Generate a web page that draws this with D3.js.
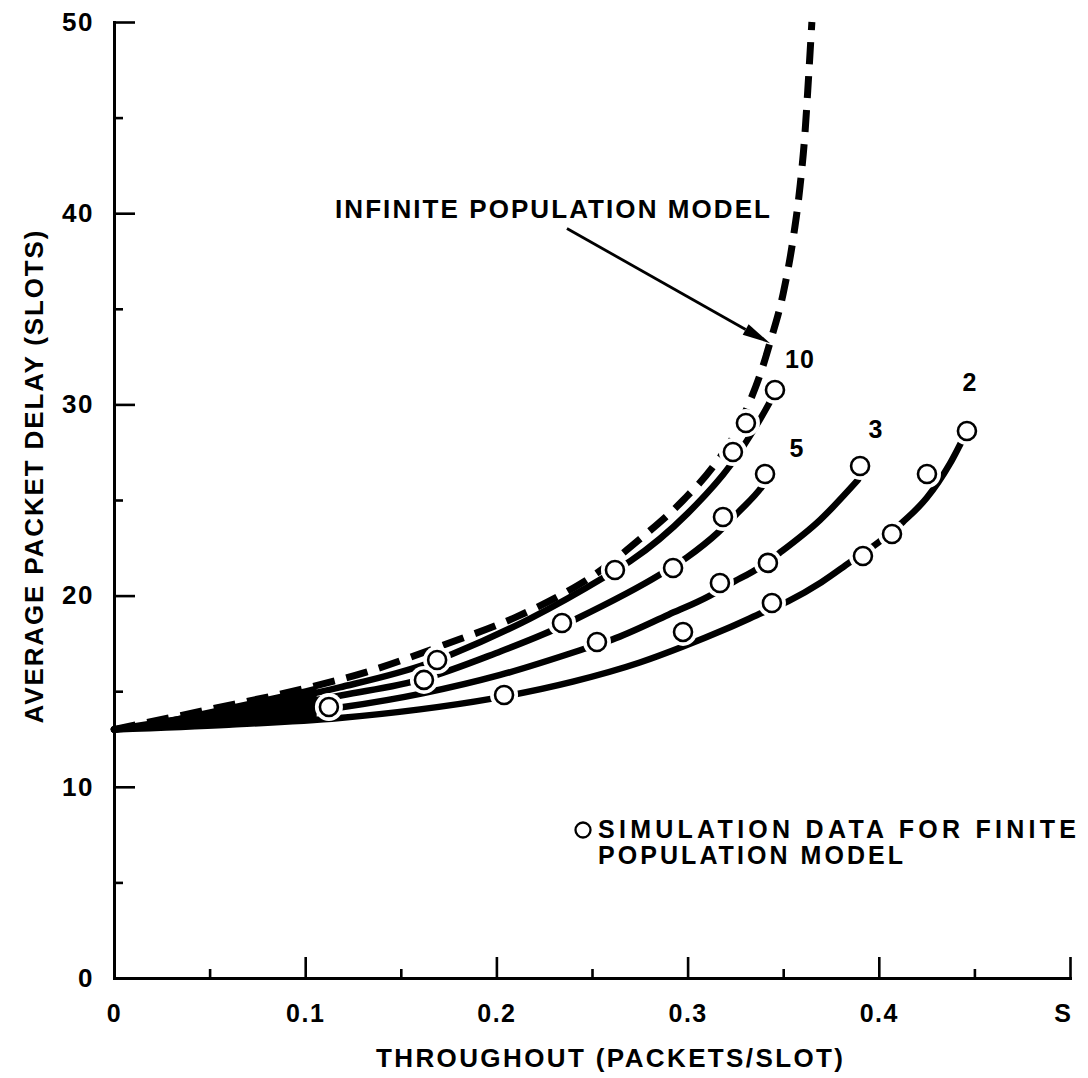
<!DOCTYPE html>
<html>
<head>
<meta charset="utf-8">
<script src="https://cdn.jsdelivr.net/npm/d3@7"></script>
<style>
  html, body { margin: 0; padding: 0; background: #fff; }
  svg { display: block; }
  text { font-family: "Liberation Sans", Arial, Helvetica, sans-serif; font-weight: bold; fill: #000; }
</style>
</head>
<body>
<svg id="chart" width="1088" height="1078"></svg>
<script>
// Slotted channel: throughput S (packets/slot) against average packet delay (slots).

// Analytic curve, infinite population model: [S, delay]
const infiniteModel = [
  [0, 13.0], [0.05, 14.05], [0.10, 15.15], [0.132, 16.0], [0.172, 17.4],
  [0.2108, 18.9], [0.2368, 20.2], [0.25, 21.0], [0.275, 22.95], [0.2978, 25.0],
  [0.3134, 26.75], [0.3239, 28.3], [0.3315, 29.9], [0.3394, 32.0], [0.343, 33.2],
  [0.350, 35.8], [0.3551, 38.6], [0.3588, 41.4], [0.3614, 44.2], [0.3632, 47.0],
  [0.365, 50.0]
];

// Analytic curves, finite population model (N users): [S, delay]
const finiteN10 = [
  [0, 13.0], [0.06, 14.0], [0.118, 15.2], [0.164, 16.45], [0.177, 16.95],
  [0.2176, 18.8], [0.257, 21.0], [0.27, 21.8], [0.30, 24.3], [0.3222, 26.8],
  [0.336, 28.9], [0.3457, 30.6]
];
const finiteN5 = [
  [0, 13.0], [0.06, 13.75], [0.12, 14.8], [0.162, 15.65], [0.20, 17.0],
  [0.2296, 18.2], [0.2422, 18.8], [0.2856, 21.1], [0.2997, 22.0], [0.3159, 23.3],
  [0.3264, 24.35], [0.3389, 25.7], [0.341, 26.0]
];
const finiteN3 = [
  [0, 13.0], [0.06, 13.5], [0.12, 14.17], [0.162, 14.9], [0.202, 15.85],
  [0.247, 17.25], [0.2605, 17.7], [0.29, 19.0], [0.3117, 20.0], [0.322, 20.6],
  [0.338, 21.5], [0.3483, 22.25], [0.3692, 23.95], [0.3891, 26.05]
];
const finiteN2 = [
  [0, 13.0], [0.06, 13.25], [0.118, 13.6], [0.16, 14.05], [0.197, 14.6],
  [0.24, 15.5], [0.275, 16.5], [0.298, 17.35], [0.32, 18.25], [0.339, 19.1],
  [0.3525, 19.7], [0.37, 20.7], [0.385, 21.75], [0.40, 22.8], [0.4126, 23.85],
  [0.425, 25.1], [0.4372, 26.9], [0.446, 28.6]
];

// Simulation results for the finite population model: [S, delay]
const simN10 = [[0.169, 16.63], [0.262, 21.34], [0.3237, 27.51], [0.3305, 29.03], [0.3457, 30.75]];
const simN5  = [[0.1621, 15.59], [0.2343, 18.57], [0.2924, 21.44], [0.3185, 24.11], [0.3405, 26.36]];
const simN3  = [[0.1124, 14.17], [0.2526, 17.57], [0.3169, 20.66], [0.3420, 21.71], [0.3902, 26.78]];
const simN2  = [[0.2040, 14.80], [0.2976, 18.10], [0.3441, 19.61], [0.3917, 22.07], [0.4069, 23.22],
                [0.4252, 26.36], [0.4461, 28.61]];

const curveNames = ["10", "5", "3", "2"];

// Axis ticks
const xTickValues = [0, 0.1, 0.2, 0.3, 0.4, 0.5];
const xTickLabels = ["0", "0.1", "0.2", "0.3", "0.4", "S"];
const xMinorTicks = [0.05, 0.15, 0.25, 0.35, 0.45];
const yTickValues = [0, 10, 20, 30, 40, 50];
const yTickLabels = ["0", "10", "20", "30", "40", "50"];
const yMinorTicks = [5, 15, 25, 35, 45];

const xTitle = "THROUGHOUT (PACKETS/SLOT)";
const yTitle = "AVERAGE PACKET DELAY (SLOTS)";
const annotationText = "INFINITE POPULATION MODEL";
const legendLines = ["SIMULATION DATA FOR FINITE", "POPULATION MODEL"];

// ---------------------------------------------------------------------------
const svg = d3.select("#chart");
const x = d3.scaleLinear().domain([0, 0.5]).range([114, 1070]);
const y = d3.scaleLinear().domain([0, 50]).range([978, 22]);

function styleAxis(g, fontSize) {
  g.attr("font-size", null).attr("font-family", null);
  g.select(".domain").attr("stroke", "#000").attr("stroke-width", 3).attr("stroke-linecap", "square");
  g.selectAll(".tick line").attr("stroke", "#000").attr("stroke-width", 2.6);
  g.selectAll(".tick text").attr("font-size", fontSize).style("letter-spacing", "1.5px");
}

// X axis: major ticks point up into the plot
const gx = svg.append("g").attr("transform", `translate(0,${y(0)})`);
gx.call(d3.axisBottom(x).tickValues(xTickValues)
  .tickFormat((d, i) => xTickLabels[i]).tickSize(-21).tickSizeOuter(0).tickPadding(26));
styleAxis(gx, 25);
gx.selectAll(".tick text").filter((d, i) => i === xTickValues.length - 1)
  .attr("text-anchor", "end").attr("x", 2);

const gxm = svg.append("g").attr("transform", `translate(0,${y(0)})`);
gxm.call(d3.axisBottom(x).tickValues(xMinorTicks).tickFormat("").tickSize(-9).tickSizeOuter(0));
styleAxis(gxm, 25);
gxm.select(".domain").remove();

// Y axis: ticks point right into the plot
const gy = svg.append("g").attr("transform", `translate(${x(0)},0)`);
gy.call(d3.axisLeft(y).tickValues(yTickValues)
  .tickFormat((d, i) => yTickLabels[i]).tickSize(-21).tickSizeOuter(0).tickPadding(20));
styleAxis(gy, 26);

const gym = svg.append("g").attr("transform", `translate(${x(0)},0)`);
gym.call(d3.axisLeft(y).tickValues(yMinorTicks).tickFormat("").tickSize(-9).tickSizeOuter(0));
styleAxis(gym, 26);
gym.select(".domain").remove();

// Axis titles
svg.append("text")
  .attr("x", 376).attr("y", 1067)
  .attr("font-size", 26)
  .attr("textLength", 467).attr("lengthAdjust", "spacing")
  .text(xTitle);

svg.append("text")
  .attr("transform", "translate(43,477) rotate(-90)")
  .attr("text-anchor", "middle")
  .attr("font-size", 26)
  .attr("textLength", 493).attr("lengthAdjust", "spacing")
  .text(yTitle);

// ---------------------------------------------------------------------------
// Curves
const line = d3.line().x(d => x(d[0])).y(d => y(d[1])).curve(d3.curveMonotoneX);
const plot = svg.append("g");

[finiteN10, finiteN5, finiteN3, finiteN2].forEach(series => {
  plot.append("path")
    .attr("d", line(series))
    .attr("fill", "none")
    .attr("stroke", "#000")
    .attr("stroke-width", 6.5)
    .attr("stroke-linecap", "round");
});

plot.append("path")
  .attr("d", line(infiniteModel))
  .attr("fill", "none")
  .attr("stroke", "#000")
  .attr("stroke-width", 7)
  .attr("stroke-dasharray", "22,12");

// Near S = 0 the curves run together into one solid wedge
svg.append("clipPath").attr("id", "wedgeClip")
  .append("rect")
  .attr("x", x(0)).attr("y", 0)
  .attr("width", x(0.106) - x(0)).attr("height", 1078);

const upper = infiniteModel.filter(d => d[0] <= 0.14);
const lower = finiteN2.filter(d => d[0] <= 0.12).slice().reverse();
const poly = d3.line().x(d => x(d[0])).y(d => y(d[1]));
plot.append("path")
  .attr("d", poly(upper.concat(lower)) + "Z")
  .attr("fill", "#000")
  .attr("clip-path", "url(#wedgeClip)");

// Simulation points: white halo opens a gap in the lines, then the ring
const simAll = [simN10, simN5, simN3, simN2].flat();
plot.selectAll("circle.halo").data(simAll).join("circle")
  .attr("class", "halo")
  .attr("cx", d => x(d[0])).attr("cy", d => y(d[1]))
  .attr("r", 14).attr("fill", "#fff");
plot.selectAll("circle.sim").data(simAll).join("circle")
  .attr("class", "sim")
  .attr("cx", d => x(d[0])).attr("cy", d => y(d[1]))
  .attr("r", 9).attr("fill", "#fff")
  .attr("stroke", "#000").attr("stroke-width", 2.6);

// Curve labels (number of users N), placed at [S, delay] of their baseline
const labelAt = [[0.3588, 31.9], [0.3572, 27.25], [0.3985, 28.24], [0.4477, 30.7]];
curveNames.forEach((name, i) => {
  svg.append("text")
    .attr("x", x(labelAt[i][0])).attr("y", y(labelAt[i][1]))
    .attr("text-anchor", "middle")
    .attr("font-size", 25)
    .style("letter-spacing", "1px")
    .text(name);
});

// Annotation with arrow pointing at the infinite population curve
svg.append("text")
  .attr("x", 335).attr("y", 218)
  .attr("font-size", 26)
  .attr("textLength", 435).attr("lengthAdjust", "spacing")
  .text(annotationText);

const arrowFrom = [x(0.2369), y(39.2)];
const arrowTo = [x(0.3431), y(33.2)];
const ang = Math.atan2(arrowTo[1] - arrowFrom[1], arrowTo[0] - arrowFrom[0]);
const headLen = 28, headHalf = 6;
const baseX = arrowTo[0] - headLen * Math.cos(ang);
const baseY = arrowTo[1] - headLen * Math.sin(ang);
svg.append("line")
  .attr("x1", arrowFrom[0]).attr("y1", arrowFrom[1])
  .attr("x2", baseX).attr("y2", baseY)
  .attr("stroke", "#000").attr("stroke-width", 2.8);
svg.append("path")
  .attr("d", d3.line()([
    arrowTo,
    [baseX + headHalf * Math.sin(ang), baseY - headHalf * Math.cos(ang)],
    [baseX - headHalf * Math.sin(ang), baseY + headHalf * Math.cos(ang)]
  ]) + "Z")
  .attr("fill", "#000");

// Legend
const legend = svg.append("g");
legend.append("circle")
  .attr("cx", 583).attr("cy", 830).attr("r", 7.5)
  .attr("fill", "#fff").attr("stroke", "#000").attr("stroke-width", 2.3);
legend.append("text")
  .attr("x", 598).attr("y", 838)
  .attr("font-size", 25)
  .attr("textLength", 478).attr("lengthAdjust", "spacing")
  .text(legendLines[0]);
legend.append("text")
  .attr("x", 598).attr("y", 864)
  .attr("font-size", 25)
  .attr("textLength", 305).attr("lengthAdjust", "spacing")
  .text(legendLines[1]);
</script>
</body>
</html>
